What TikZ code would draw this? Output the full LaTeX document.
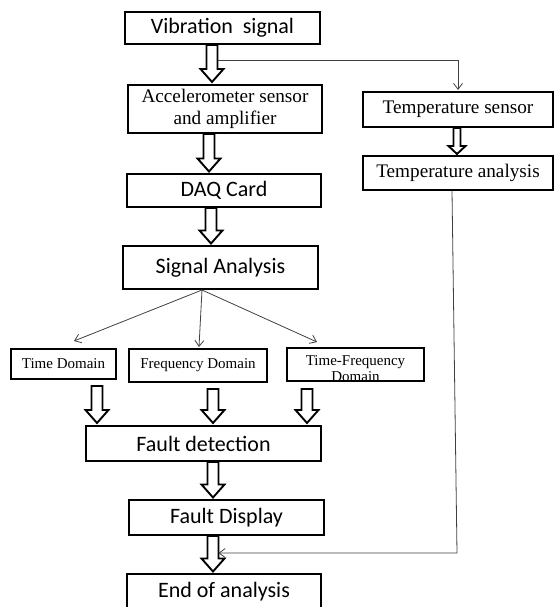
\documentclass[tikz,border=0pt]{standalone}
\usepackage{fontspec}
\setmainfont{Liberation Serif}
\newfontfamily\calfont{Carlito}
\usetikzlibrary{arrows.meta,calc,positioning}
\tikzset{
	block/.style={
		rectangle,
		draw,
		line width=2pt,
		inner sep=0pt,
		minimum height=34pt,
	},
	cblock/.style={
		block,
		font=\calfont\fontsize{22}{24}\selectfont,
	},
	tblock/.style={
		block,
		align=center,
		font=\fontsize{19.2}{22}\selectfont,
	},
	dblock/.style={
		block,
		font=\fontsize{15}{15}\selectfont,
	},
	hollow/.style n args={3}{
		line width=1.9pt,
		line join=miter,
		to path={
			let \p1=(\tikztostart), \p2=(\tikztotarget) in
			(\x1-#1,\y1) -- (\x1-#1,\y2+#3) -- (\x1-#2,\y2+#3) -- (\x1,\y2)
			-- (\x1+#2,\y2+#3) -- (\x1+#1,\y2+#3) -- (\x1+#1,\y1) -- cycle
		},
	},
	fat/.style={
		hollow={5.5pt}{11.5pt}{13pt},
	},
	slim/.style={
		hollow={3.5pt}{8.5pt}{8pt},
	},
	link/.style={
		-{Straight Barb[length=6pt,width=9pt]},
		line width=0.8pt,
		draw=black!75,
	},
}

\begin{document}
\begin{tikzpicture}[x=1pt,y=-1pt]
	\useasboundingbox (0,0) rectangle (555,607);
	\clip (0,0) rectangle (555,607);

	% main chain
	\node [
	  cblock,
	  minimum width=195pt,
	  minimum height=32pt
	] (vib) at (222.5,28) {Vibration\ \ signal};
	\node [
	  tblock,
	  minimum width=194pt,
	  minimum height=48pt
	] (acc) at (225,109) {Accelerometer sensor\\and amplifier};
	\node [
	  cblock,
	  minimum width=194pt,
	  minimum height=33pt
	] (daq) at (224,190.5) {DAQ Card};
	\node [
	  cblock,
	  minimum width=195pt,
	  minimum height=43pt
	] (sig) at (220.5,267.5) {Signal Analysis};

	% temperature branch
	\node [
	  tblock,
	  minimum width=190pt,
	  minimum height=35pt
	] (tsen) at (458,109.5) {Temperature sensor};
	\node [
	  tblock,
	  minimum width=190pt,
	  minimum height=34pt
	] (tana) at (458,173) {Temperature analysis};

	% domains
	\node [
	  dblock,
	  minimum width=105pt,
	  minimum height=30pt
	] (td) at (63.5,364) {Time Domain};
	\node [
	  dblock,
	  minimum width=138pt,
	  minimum height=33pt
	] (fd) at (198,365.5) {Frequency Domain};
	\node [
	  dblock,
	  minimum width=137pt,
	  minimum height=33pt,
	  label={[yshift=-4pt,align=center,font=\fontsize{15}{15.5}\selectfont]center:Time-Frequency\\Domain}
	] (tfd) at (355.5,364.5) {};

	\node [
	  cblock,
	  minimum width=235pt,
	  minimum height=35pt
	] (fdet) at (203.5,443.5) {Fault detection};
	\node [
	  cblock,
	  minimum width=195pt,
	  minimum height=35pt
	] (fdis) at (226.5,517.5) {Fault Display};
	\node [
	  cblock,
	  minimum width=194pt,
	  minimum height=35pt
	] (end) at (224,591.5) {End of analysis};

	\coordinate (br) at (217.5,60);
	\coordinate (ret) at (457,553);
	\coordinate (tin) at (218.5,553);

	\draw[fat] ([xshift=-10.5pt]vib.south) to ([yshift=2pt]acc.north);
	\draw[fat] ([xshift=-16pt]acc.south) to ([yshift=1.5pt]daq.north);
	\draw[fat] ([xshift=-13pt]daq.south) to ([yshift=1.5pt]sig.north);
	\draw[slim] ([xshift=-1pt]tsen.south) to ([yshift=1pt]tana.north);

	\draw[link] (br) -| ([yshift=1pt]tsen.north);

	\draw[link] ([xshift=-18.5pt]sig.south) -- ([shift={(10.5pt,7pt)}]td.north);
	\draw[link] ([xshift=-18.5pt]sig.south) -- ([shift={(1pt,1pt)}]fd.north);
	\draw[link] ([xshift=-18.5pt]sig.south) -- ([shift={(-38.5pt,5pt)}]tfd.north);

	\draw[fat] ([shift={(33.5pt,-6pt)}]td.south) to ([yshift=2pt]fdet.north);
	\draw[fat] ([shift={(15pt,-6pt)}]fd.south) to ([yshift=2pt]fdet.north);
	\draw[fat] ([shift={(-48.5pt,-7pt)}]tfd.south) to ([yshift=2pt]fdet.north);
	\draw[fat] ([xshift=9.5pt]fdet.south) to ([yshift=1.5pt]fdis.north);
	\draw[fat] ([xshift=-13.5pt]fdis.south) to ([yshift=1.5pt]end.north);

	\draw[link] ([xshift=-6pt]tana.south) -- (ret) -- (tin);
\end{tikzpicture}
\end{document}
